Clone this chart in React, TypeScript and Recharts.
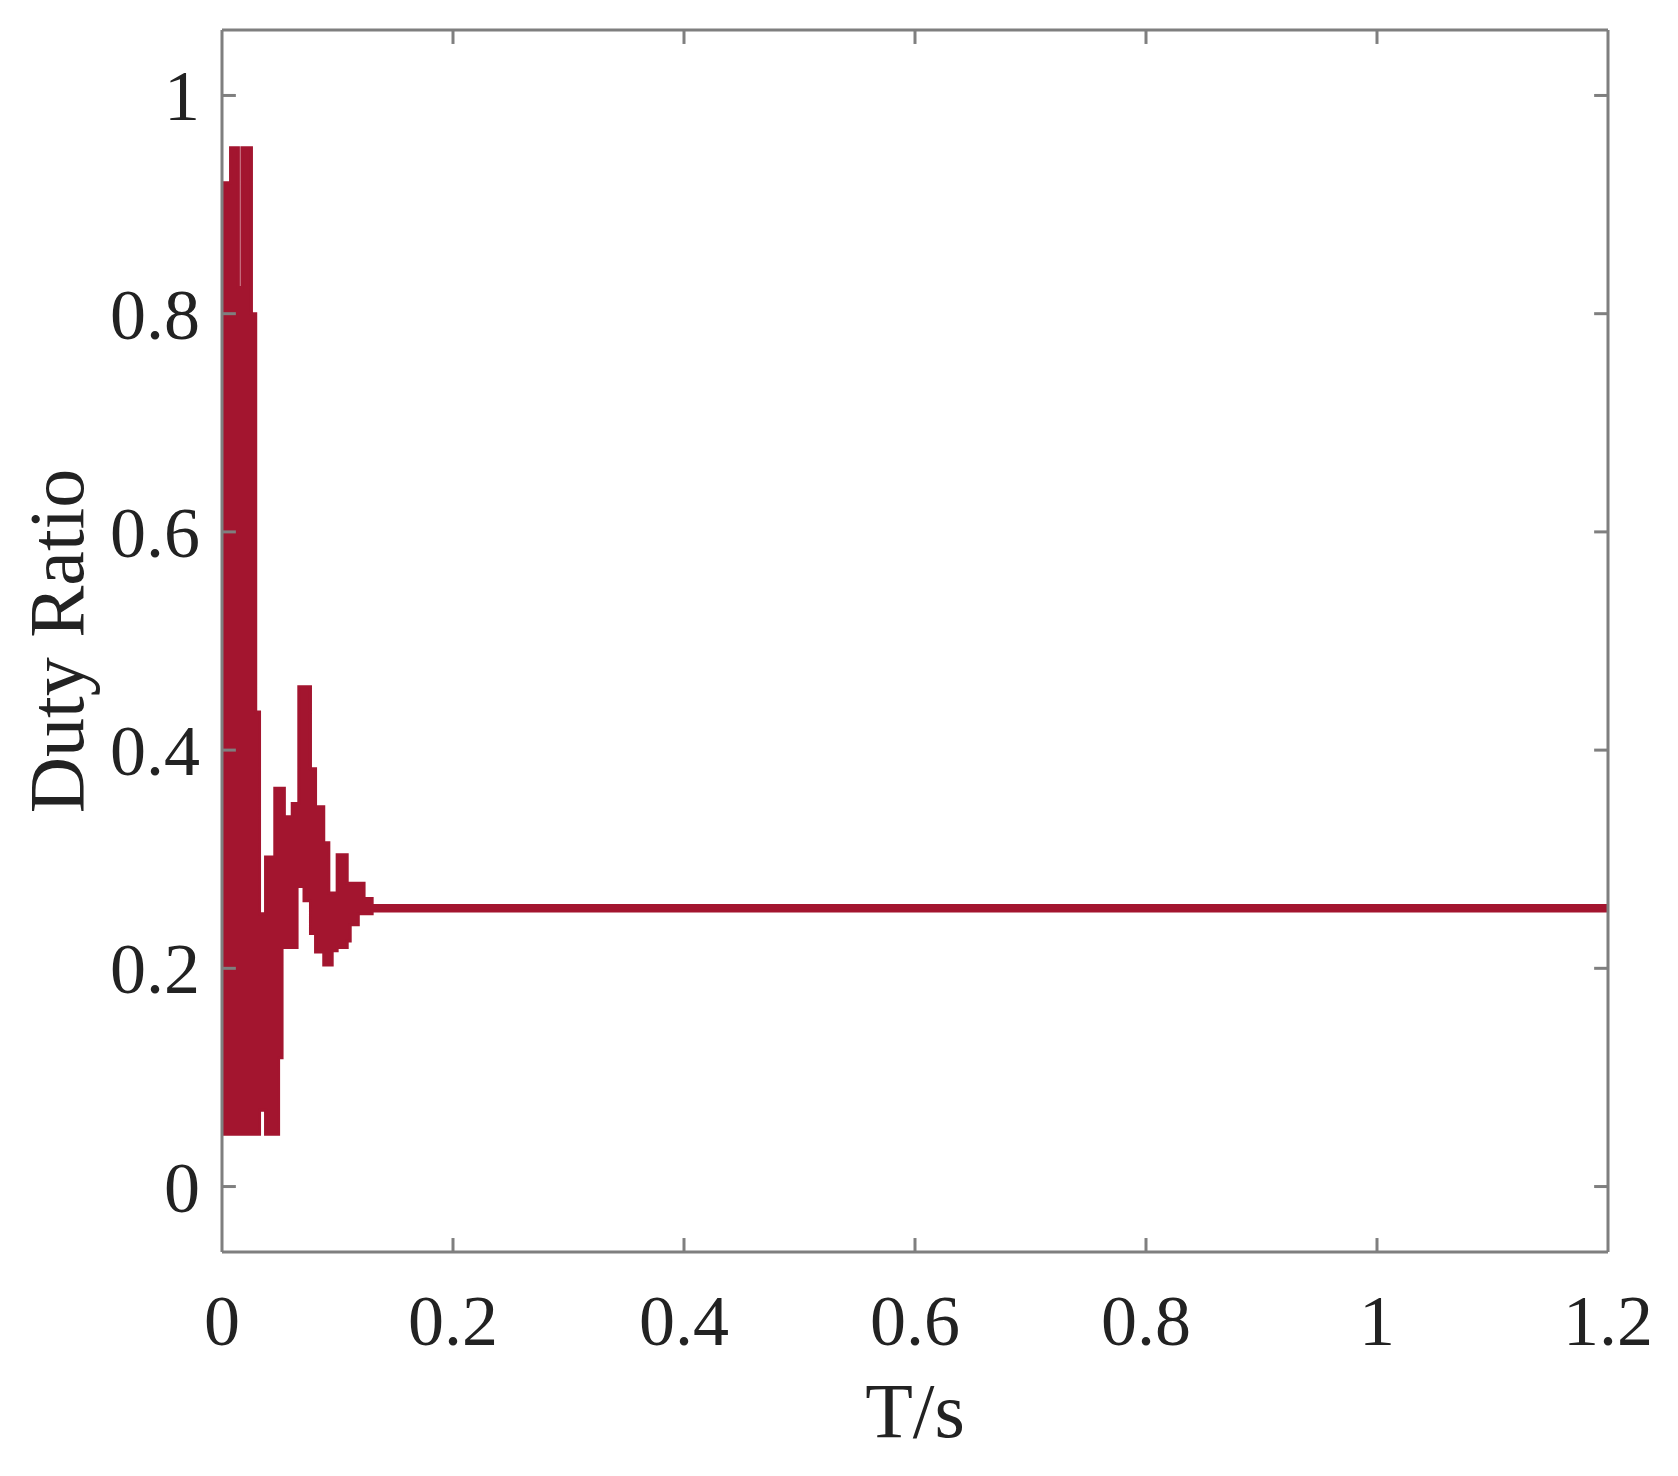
import React from 'react'
import { Area, ComposedChart, Label, ReferenceLine, XAxis, YAxis } from 'recharts'

// duty ratio envelope (stepwise, holds until next time)
const times = [
  0, 0.0016, 0.0074, 0.0142, 0.0172, 0.0255, 0.0292, 0.0325, 0.0377, 0.0457, 0.049, 0.052, 0.054, 0.0608,
  0.065, 0.0665, 0.071, 0.0766, 0.081, 0.0881, 0.0925, 0.0954, 0.0997, 0.1084, 0.111, 0.118, 0.123, 0.13, 1.2,
]
const lows = [
  0.05, 0.048, 0.048, 0.048, 0.048, 0.048, 0.048, 0.07, 0.048, 0.048, 0.118, 0.219, 0.219, 0.219,
  0.275, 0.275, 0.262, 0.232, 0.215, 0.203, 0.203, 0.216, 0.219, 0.225, 0.24, 0.25, 0.25, 0.2525, 0.2525,
]
const highs = [
  0.351, 0.92, 0.952, 0.824, 0.952, 0.8, 0.435, 0.25, 0.302, 0.365, 0.365, 0.365, 0.339, 0.351,
  0.351, 0.458, 0.458, 0.383, 0.348, 0.315, 0.269, 0.269, 0.304, 0.278, 0.278, 0.278, 0.264, 0.2575, 0.2575,
]

const xTicks = [0, 0.2, 0.4, 0.6, 0.8, 1, 1.2]
const yTicks = [0, 0.2, 0.4, 0.6, 0.8, 1]

const X_MIN = 0
const X_MAX = 1.2
const Y_MIN = -0.06
const Y_MAX = 1.06

const RED = '#A3152F'
const GREY = '#7f7f7f'
const FONT = '"Liberation Serif", "Times New Roman", serif'

const data = times.map((t, i) => ({ t, duty: [lows[i], highs[i]] }))

// tick marks point inwards on all four sides
const xTickLen = 0.012
const yTickLen = 0.0128

function XTick(p: any) {
  return (
    <text x={p.x} y={p.y + 93} textAnchor="middle" fontSize={72} fill="#222" fontFamily={FONT}>
      {p.payload.value}
    </text>
  )
}

function YTick(p: any) {
  return (
    <text x={p.x - 22} y={p.y + 25} textAnchor="end" fontSize={72} fill="#222" fontFamily={FONT}>
      {p.payload.value}
    </text>
  )
}

export default function App() {
  return (
    <div style={{ position: 'absolute', left: 0, top: 0, background: '#fff' }}>
      <ComposedChart width={1678} height={1476} data={data} margin={{ top: 30, right: 70, bottom: 0, left: 0 }}>
        <XAxis
          dataKey="t"
          type="number"
          domain={[X_MIN, X_MAX]}
          ticks={xTicks}
          allowDataOverflow
          tickLine={false}
          tickSize={0}
          tickMargin={0}
          tick={<XTick />}
          axisLine={{ stroke: GREY, strokeWidth: 3 }}
          height={224}
        >
          <Label
            content={(props: any) => {
              const vb = props.viewBox
              return (
                <text x={vb.x + vb.width / 2} y={vb.y + 185} textAnchor="middle" fontSize={78} fill="#222" fontFamily={FONT}>
                  T/s
                </text>
              )
            }}
          />
        </XAxis>
        <YAxis
          type="number"
          domain={[Y_MIN, Y_MAX]}
          ticks={yTicks}
          allowDataOverflow
          tickLine={false}
          tickSize={0}
          tickMargin={0}
          tick={<YTick />}
          axisLine={{ stroke: GREY, strokeWidth: 3 }}
          width={222}
        >
          <Label
            content={(props: any) => {
              const vb = props.viewBox
              const cy = vb.y + vb.height / 2
              return (
                <text x={83} y={cy} transform={`rotate(-90 83 ${cy})`} textAnchor="middle" fontSize={78} fill="#222" fontFamily={FONT}>
                  Duty Ratio
                </text>
              )
            }}
          />
        </YAxis>

        <ReferenceLine y={Y_MAX} stroke={GREY} strokeWidth={3} ifOverflow="visible" />
        <ReferenceLine x={X_MAX} stroke={GREY} strokeWidth={3} ifOverflow="visible" />

        {yTicks.map((v) => (
          <ReferenceLine key={'yl' + v} segment={[{ x: X_MIN, y: v }, { x: X_MIN + xTickLen, y: v }]} stroke={GREY} strokeWidth={3} ifOverflow="visible" />
        ))}
        {yTicks.map((v) => (
          <ReferenceLine key={'yr' + v} segment={[{ x: X_MAX - xTickLen, y: v }, { x: X_MAX, y: v }]} stroke={GREY} strokeWidth={3} ifOverflow="visible" />
        ))}
        {xTicks.slice(1, -1).map((v) => (
          <ReferenceLine key={'xb' + v} segment={[{ x: v, y: Y_MIN }, { x: v, y: Y_MIN + yTickLen }]} stroke={GREY} strokeWidth={3} ifOverflow="visible" />
        ))}
        {xTicks.slice(1, -1).map((v) => (
          <ReferenceLine key={'xt' + v} segment={[{ x: v, y: Y_MAX - yTickLen }, { x: v, y: Y_MAX }]} stroke={GREY} strokeWidth={3} ifOverflow="visible" />
        ))}

        <Area
          dataKey="duty"
          type="stepAfter"
          stroke={RED}
          strokeWidth={3}
          fill={RED}
          fillOpacity={1}
          dot={false}
          activeDot={false}
          isAnimationActive={false}
        />
      </ComposedChart>
    </div>
  )
}
